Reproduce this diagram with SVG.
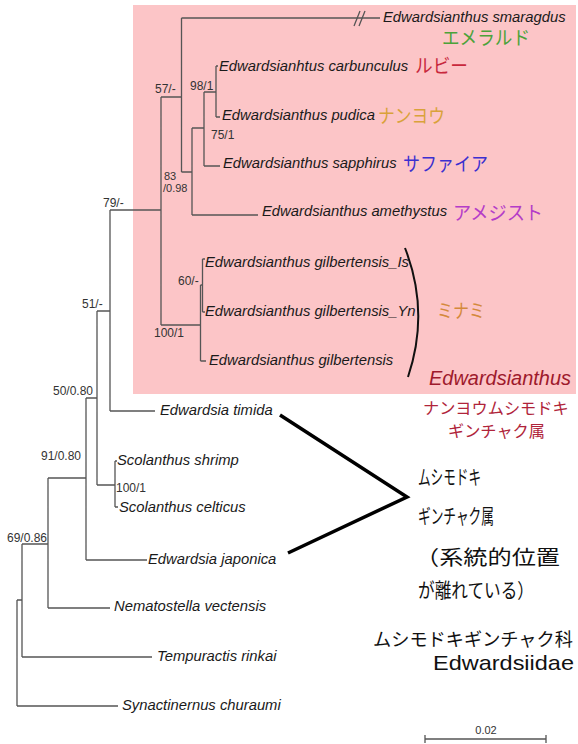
<svg xmlns="http://www.w3.org/2000/svg" width="578" height="744" viewBox="0 0 578 744">
<style>
.sp{font-family:"Liberation Sans",Arial,sans-serif;font-style:italic;font-size:14.8px;fill:#1a1a1a}
.bs{font-family:"Liberation Sans",Arial,sans-serif;font-size:12px;fill:#333}
.jp{font-family:"Noto Sans CJK JP",sans-serif;font-size:19px}
.bk{font-family:"Noto Sans CJK JP",sans-serif;font-size:20px;fill:#111}
.tree{fill:none;stroke:#555;stroke-width:1.3}
</style>
<rect x="133" y="5" width="443" height="389" fill="#fcc5c7"/>
<g id="connectors">
<path class="tree" d="M17,600V706M17,600H22M17,706H118
M22,544V657M22,544H48M22,657H152
M48,478V608M48,478H86M48,608H110
M86,398V560M86,398H97M86,560H147
M97,311V485M97,311H110M97,485H115
M115,461V507M115,461H117M115,507H118
M110,210V411M110,210H161M110,411H155
M161,97V325M161,97H181.5M161,325H200.5
M200.5,285V361M200.5,285H202.5M200.5,361H206
M202.5,259V312M202.5,259H205M202.5,312H205
M181.5,18V172M181.5,18H380M181.5,172H192
M192,128V215M192,128H204M192,215H258
M204,92V166M204,92H216M204,166H220
M216,66V117M216,66H218M216,117H220"/>
<path class="tree" d="M354,26L360,11M359,26L365,11"/>
<path d="M405,248Q430,312 408,377" fill="none" stroke="#111" stroke-width="2"/>
<path d="M280,415L407,497L288,553" fill="none" stroke="#000" stroke-width="3.5"/>
</g>
<g id="bootstrap">
<text class="bs" x="155" y="93">57/-</text>
<text class="bs" x="190" y="90">98/1</text>
<text class="bs" x="211" y="139">75/1</text>
<text class="bs" x="164" y="180" style="font-size:11px">83</text>
<text class="bs" x="163" y="192" style="font-size:11px">/0.98</text>
<text class="bs" x="103" y="207">79/-</text>
<text class="bs" x="178" y="285">60/-</text>
<text class="bs" x="154" y="337">100/1</text>
<text class="bs" x="82" y="308">51/-</text>
<text class="bs" x="53" y="395">50/0.80</text>
<text class="bs" x="41" y="460">91/0.80</text>
<text class="bs" x="116" y="492">100/1</text>
<text class="bs" x="7" y="542">69/0.86</text>
</g>
<g id="smaragdus"><text class="sp" x="383" y="22">Edwardsianthus smaragdus</text><text class="jp" x="442" y="45" fill="#4ca23a" textLength="88" lengthAdjust="spacingAndGlyphs">エメラルド</text></g>
<g id="carbunculus"><text class="sp" x="219" y="71">Edwardsianhtus carbunculus</text><text class="jp" x="415" y="73" fill="#c8283c" textLength="53" lengthAdjust="spacingAndGlyphs">ルビー</text></g>
<g id="pudica"><text class="sp" x="222" y="120">Edwardsianthus pudica</text><text class="jp" x="378" y="123" fill="#d9a23a" textLength="67" lengthAdjust="spacingAndGlyphs">ナンヨウ</text></g>
<g id="sapphirus"><text class="sp" x="223" y="168">Edwardsianthus sapphirus</text><text class="jp" x="403" y="171" fill="#3b2fd0" textLength="85" lengthAdjust="spacingAndGlyphs">サファイア</text></g>
<g id="amethystus"><text class="sp" x="262" y="216">Edwardsianthus amethystus</text><text class="jp" x="453" y="220" fill="#b43cc8" textLength="90" lengthAdjust="spacingAndGlyphs">アメジスト</text></g>
<g id="gilbertensis_Is"><text class="sp" x="205" y="267">Edwardsianthus gilbertensis_Is</text></g>
<g id="gilbertensis_Yn"><text class="sp" x="205" y="316">Edwardsianthus gilbertensis_Yn</text></g>
<g id="gilbertensis"><text class="sp" x="209" y="365">Edwardsianthus gilbertensis</text></g>
<g id="minami"><text class="jp" x="437" y="318" fill="#d4893b" textLength="48" lengthAdjust="spacingAndGlyphs">ミナミ</text></g>
<g id="genus-edwardsianthus">
<text x="429" y="385" font-family="Liberation Sans,Arial,sans-serif" font-style="italic" font-size="19.5" fill="#9e1a2c" textLength="142" lengthAdjust="spacingAndGlyphs">Edwardsianthus</text>
<text class="jp" x="423" y="414" fill="#b0243a" style="font-size:16.2px">ナンヨウムシモドキ</text>
<text class="jp" x="448" y="437" fill="#b0243a" style="font-size:16.2px">ギンチャク属</text>
</g>
<g id="timida"><text class="sp" x="160" y="415">Edwardsia timida</text></g>
<g id="shrimp"><text class="sp" x="117" y="465">Scolanthus shrimp</text></g>
<g id="celticus"><text class="sp" x="119" y="512">Scolanthus celticus</text></g>
<g id="japonica"><text class="sp" x="148" y="564">Edwardsia japonica</text></g>
<g id="nematostella"><text class="sp" x="114" y="611">Nematostella vectensis</text></g>
<g id="tempuractis"><text class="sp" x="157" y="661">Tempuractis rinkai</text></g>
<g id="synactinernus"><text class="sp" x="122" y="710">Synactinernus churaumi</text></g>
<g id="genus-edwardsia">
<text class="bk" x="418" y="485" textLength="63" lengthAdjust="spacingAndGlyphs">ムシモドキ</text>
<text class="bk" x="418" y="524" textLength="76" lengthAdjust="spacingAndGlyphs">ギンチャク属</text>
<text class="bk" x="415" y="565" textLength="145" lengthAdjust="spacingAndGlyphs">（系統的位置</text>
<text class="bk" x="418" y="598" textLength="116" lengthAdjust="spacingAndGlyphs">が離れている）</text>
</g>
<g id="family">
<text class="bk" x="373" y="646" style="font-size:18.2px">ムシモドキギンチャク科</text>
<text x="433" y="670" font-family="Liberation Sans,Arial,sans-serif" font-size="21" fill="#111" textLength="141" lengthAdjust="spacingAndGlyphs">Edwardsiidae</text>
</g>
<g id="scalebar">
<path d="M425,739H546M425,735V743M546,735V743" fill="none" stroke="#555" stroke-width="1.3"/>
<text class="bs" x="486" y="734" text-anchor="middle" style="font-size:11px">0.02</text>
</g>
</svg>
